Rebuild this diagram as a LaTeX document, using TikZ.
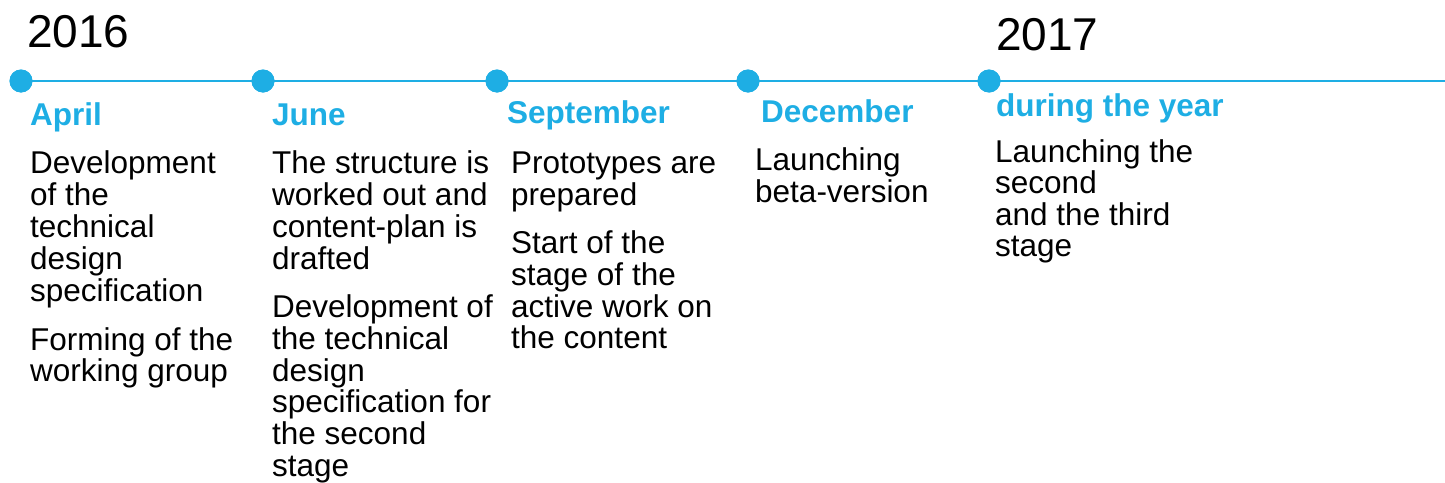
\documentclass[tikz,border=0pt]{standalone}
\usepackage{fontspec}
\setmainfont{Liberation Sans}
\definecolor{tlblue}{RGB}{30,174,228}
\begin{document}
\begin{tikzpicture}[x=1pt,y=-1pt,
  dot/.style={circle,fill=tlblue,inner sep=0pt,minimum size=23pt},
  year/.style={anchor=base west,inner sep=0pt,font=\fontsize{46}{50}\selectfont},
  month/.style={anchor=base west,inner sep=0pt,text=tlblue,font=\fontsize{31.5}{34}\selectfont\bfseries},
  txt/.style={anchor=base west,inner sep=0pt,font=\fontsize{31.5}{32}\selectfont}]
\useasboundingbox (0,0) rectangle (1445,482);
% timeline
\coordinate (end) at (1445,81);
\node[dot] (d1) at (21,81) {};
\node[dot] (d2) at (263,81) {};
\node[dot] (d3) at (497,81) {};
\node[dot] (d4) at (748,81) {};
\node[dot] (d5) at (989,81) {};
\draw[tlblue,line width=2.6pt] (d1.center) -- (end);
\foreach \n in {d1,d2,d3,d4,d5} \node[dot] at (\n) {};
% years
\node[year] (y1) at (27,47) {2016};
\node[year] (y2) at (996,50) {2017};
% months
\node[month] (m1) at (30,125) {April};
\node[month] (m2) at (272,125) {June};
\node[month] (m3) at (507,123) {September};
\node[month] (m4) at (761,122) {December};
\node[month] (m5) at (996,116) {during the year};
% April
\node[txt] (a1) at (30,173) {Development};
\node[txt] (a2) at (30,205) {of the};
\node[txt] (a3) at (30,237) {technical};
\node[txt] (a4) at (30,269) {design};
\node[txt] (a5) at (30,301) {specification};
\node[txt] (a6) at (30,350) {Forming of the};
\node[txt] (a7) at (30,381) {working group};
% June
\node[txt] (j1) at (272,173) {The structure is};
\node[txt] (j2) at (272,205) {worked out and};
\node[txt] (j3) at (272,237) {content-plan is};
\node[txt] (j4) at (272,269) {drafted};
\node[txt] (j5) at (272,317) {Development of};
\node[txt] (j6) at (272,349) {the technical};
\node[txt] (j7) at (272,381) {design};
\node[txt] (j8) at (272,412) {specification for};
\node[txt] (j9) at (272,444) {the second};
\node[txt] (j10) at (272,476) {stage};
% September
\node[txt] (s1) at (511,173) {Prototypes are};
\node[txt] (s2) at (511,205) {prepared};
\node[txt] (s3) at (511,253) {Start of the};
\node[txt] (s4) at (511,285) {stage of the};
\node[txt] (s5) at (511,317) {active work on};
\node[txt] (s6) at (511,348) {the content};
% December
\node[txt] (c1) at (755,170) {Launching};
\node[txt] (c2) at (755,202) {beta-version};
% during the year
\node[txt] (e1) at (995,162) {Launching the};
\node[txt] (e2) at (995,193) {second};
\node[txt] (e3) at (995,225) {and the third};
\node[txt] (e4) at (995,256) {stage};
\end{tikzpicture}
\end{document}
